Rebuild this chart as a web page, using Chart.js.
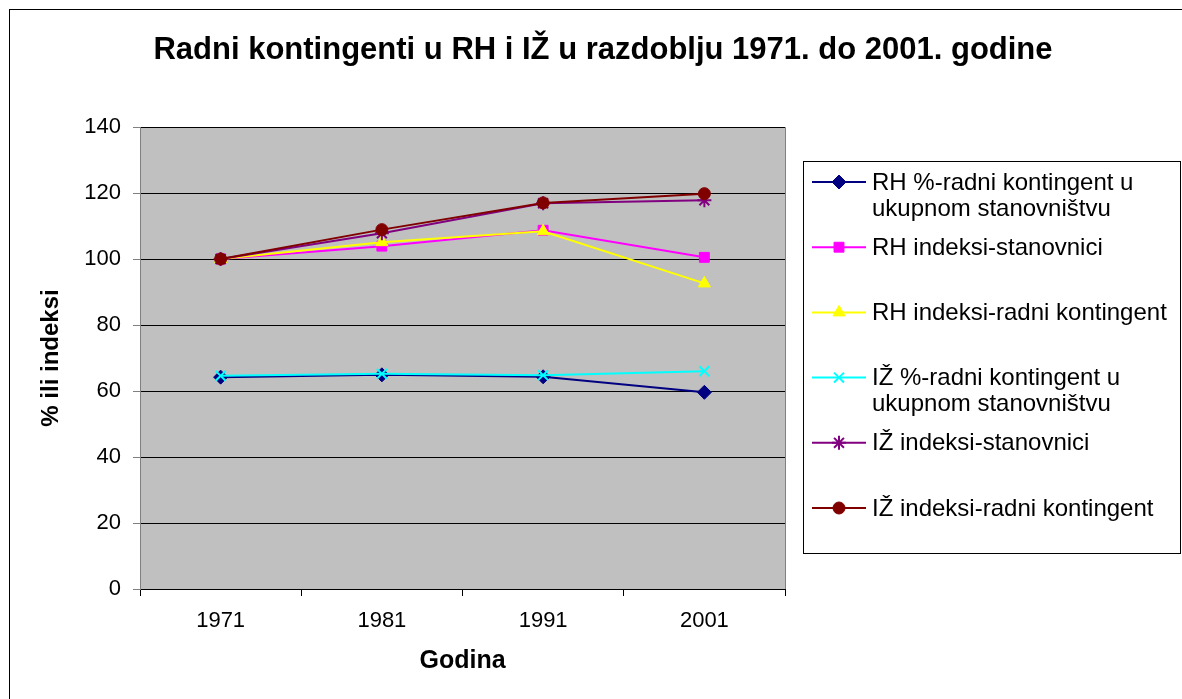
<!DOCTYPE html>
<html lang="hr">
<head>
<meta charset="UTF-8">
<title>Radni kontingenti u RH i IŽ</title>
<script src="https://cdn.jsdelivr.net/npm/chart.js"></script>
<style>
  body { margin: 0; background: #fff; }
  canvas { display: block; }
</style>
</head>
<body>
<canvas id="grafikon" width="1182" height="699"></canvas>
<script>
// podaci ocitani s grafa
const godine = ['1971', '1981', '1991', '2001'];
const rhPostotak = [64.2, 64.9, 64.3, 59.6];
const rhIndeksStanovnici = [100, 103.9, 108.7, 100.5];
const rhIndeksRadni = [100, 105.1, 108.4, 92.6];
const izPostotak = [64.6, 65.2, 64.8, 66.0];
const izIndeksStanovnici = [100, 107.8, 116.9, 117.8];
const izIndeksRadni = [100, 108.9, 117.0, 119.8];

const nazivi = [
    ['RH %-radni kontingent u', 'ukupnom stanovništvu'],
    ['RH indeksi-stanovnici'],
    ['RH indeksi-radni kontingent'],
    ['IŽ %-radni kontingent u', 'ukupnom stanovništvu'],
    ['IŽ indeksi-stanovnici'],
    ['IŽ indeksi-radni kontingent']
];
const yTicks = [0, 20, 40, 60, 80, 100, 120, 140];

const boje = ['#000080', '#FF00FF', '#FFFF00', '#00FFFF', '#800080', '#800000'];
const oznake = ['rectRot', 'rect', 'triangle', 'crossRot', 'star', 'circle'];
const vrijednosti = [rhPostotak, rhIndeksStanovnici, rhIndeksRadni, izPostotak, izIndeksStanovnici, izIndeksRadni];

const FONT = 'Arial, "Liberation Sans", sans-serif';

const datasets = vrijednosti.map((v, i) => ({
    label: nazivi[i].join(' '),
    data: v,
    borderColor: boje[i],
    backgroundColor: boje[i],
    borderWidth: 2,
    pointStyle: oznake[i],
    pointRadius: oznake[i] === 'circle' ? 6 : 7,
    pointBorderWidth: (oznake[i] === 'crossRot' || oznake[i] === 'star') ? 2 : 1,
    order: 10 - i,
    tension: 0
}));

// pozadina, okvir i naslov
const pozadinaPlugin = {
    id: 'pozadina',
    beforeDraw(chart) {
        const ctx = chart.ctx;
        const a = chart.chartArea;
        ctx.save();
        ctx.fillStyle = '#fff';
        ctx.fillRect(0, 0, chart.width, chart.height);
        ctx.strokeStyle = '#000';
        ctx.lineWidth = 1;
        ctx.strokeRect(9.5, 9.5, 1400, 900);
        ctx.fillStyle = '#C0C0C0';
        ctx.fillRect(a.left, a.top, a.right - a.left, a.bottom - a.top);
        ctx.strokeStyle = '#808080';
        ctx.beginPath();
        ctx.moveTo(a.left, a.top + 0.5);
        ctx.lineTo(a.right + 0.5, a.top + 0.5);
        ctx.lineTo(a.right + 0.5, a.bottom);
        ctx.stroke();
        ctx.restore();
    },
    afterDraw(chart) {
        const ctx = chart.ctx;
        ctx.save();
        ctx.fillStyle = '#000';
        ctx.font = 'bold 31px ' + FONT;
        ctx.textAlign = 'center';
        ctx.textBaseline = 'middle';
        ctx.fillText('Radni kontingenti u RH i IŽ u razdoblju 1971. do 2001. godine', 603, 50);
        ctx.restore();
    }
};

// legenda s dvorednim nazivima
const legendaPlugin = {
    id: 'legenda',
    afterDraw(chart) {
        const ctx = chart.ctx;
        ctx.save();
        ctx.strokeStyle = '#000';
        ctx.lineWidth = 1;
        ctx.strokeRect(803.5, 161.5, 377, 392);
        ctx.font = '24px ' + FONT;
        ctx.textBaseline = 'middle';
        chart.data.datasets.forEach((ds, i) => {
            const y = 182 + i * 65.2;
            ctx.strokeStyle = ds.borderColor;
            ctx.lineWidth = 2;
            ctx.beginPath();
            ctx.moveTo(812, y);
            ctx.lineTo(866, y);
            ctx.stroke();
            ctx.fillStyle = ds.backgroundColor;
            ctx.lineWidth = ds.pointBorderWidth;
            Chart.helpers.drawPoint(ctx, {
                pointStyle: ds.pointStyle,
                radius: ds.pointRadius,
                rotation: 0,
                borderWidth: ds.pointBorderWidth
            }, 839, y);
            ctx.fillStyle = '#000';
            nazivi[i].forEach((red, j) => {
                ctx.fillText(red, 872, y + 1 + j * 26);
            });
        });
        ctx.restore();
    }
};

new Chart(document.getElementById('grafikon'), {
    type: 'line',
    data: { labels: godine, datasets: datasets },
    options: {
        responsive: false,
        animation: false,
        layout: { padding: { left: 0, right: 397, top: 127, bottom: 0 } },
        plugins: {
            legend: { display: false },
            title: { display: false },
            tooltip: { enabled: false }
        },
        scales: {
            x: {
                offset: true,
                grid: {
                    offset: true,
                    drawOnChartArea: false,
                    drawTicks: true,
                    tickLength: 7,
                    tickColor: '#000'
                },
                border: { color: '#000' },
                ticks: {
                    color: '#000',
                    padding: 12,
                    font: { family: FONT, size: 22 }
                },
                title: {
                    display: true,
                    text: 'Godina',
                    color: '#000',
                    padding: { top: 0, bottom: 23 },
                    font: { family: FONT, size: 25, weight: 'bold' }
                },
                afterFit(scale) { scale.height = 110; }
            },
            y: {
                min: 0,
                max: 140,
                afterBuildTicks(scale) { scale.ticks = yTicks.map(v => ({ value: v })); },
                grid: {
                    color: '#000',
                    tickLength: 7,
                    tickColor: '#808080'
                },
                border: { color: '#808080' },
                ticks: {
                    color: '#000',
                    padding: 12,
                    font: { family: FONT, size: 22 }
                },
                title: {
                    display: true,
                    text: '% ili indeksi',
                    color: '#000',
                    padding: { top: 37, bottom: 0 },
                    font: { family: FONT, size: 24, weight: 'bold' }
                },
                afterFit(scale) { scale.width = 140; }
            }
        }
    },
    plugins: [pozadinaPlugin, legendaPlugin]
});
</script>
</body>
</html>
